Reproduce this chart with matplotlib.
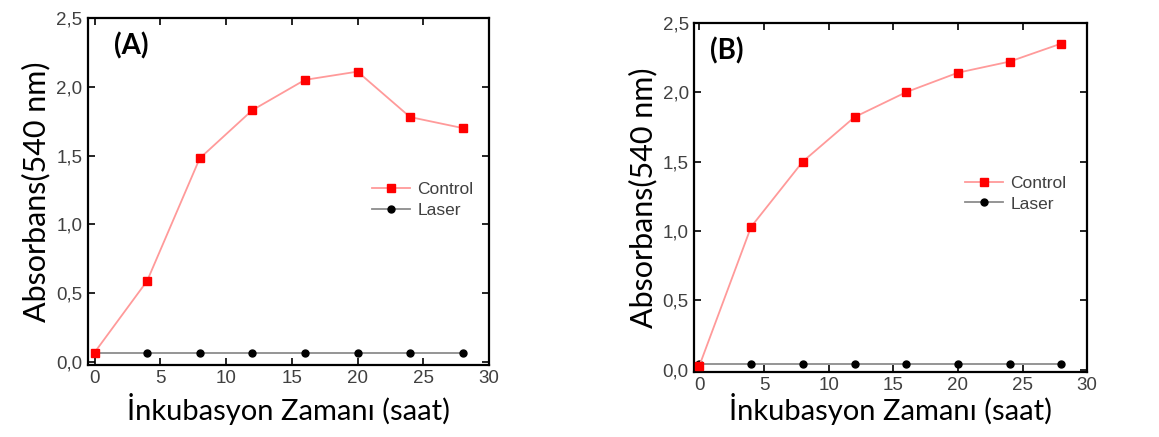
import matplotlib
matplotlib.use("Agg")
import matplotlib.pyplot as plt
from matplotlib.ticker import FuncFormatter

hours = [0, 4, 8, 12, 16, 20, 24, 28]
control_a = [0.07, 0.59, 1.48, 1.83, 2.05, 2.11, 1.78, 1.70]
laser_a = [0.065, 0.065, 0.065, 0.065, 0.065, 0.065, 0.065, 0.065]
control_b = [0.03, 1.03, 1.50, 1.82, 2.00, 2.14, 2.22, 2.35]
laser_b = [0.045, 0.045, 0.045, 0.045, 0.045, 0.045, 0.045, 0.045]

fig = plt.figure(figsize=(11.59, 4.37), dpi=100)

comma = FuncFormatter(lambda v, p: f"{v:.1f}".replace(".", ","))
intfmt = FuncFormatter(lambda v, p: f"{v:.0f}")

def panel(rect, ctrl, las, tag, tag_x, xlim, ylim, lab_pad, leg_xy):
    ax = fig.add_axes(rect)
    ax.plot(hours, ctrl, color="#ff9a9a", lw=1.3, marker="s", ms=5.5,
            mfc="#ff0000", mec="#ff0000", label="Control", zorder=3)
    ax.plot(hours, las, color="#8c8c8c", lw=1.3, marker="o", ms=5,
            mfc="black", mec="black", label="Laser", zorder=2)
    ax.set_xlim(*xlim)
    ax.set_ylim(*ylim)
    ax.set_xticks([0, 5, 10, 15, 20, 25, 30])
    ax.set_yticks([0, 0.5, 1.0, 1.5, 2.0, 2.5])
    ax.xaxis.set_major_formatter(intfmt)
    ax.yaxis.set_major_formatter(comma)
    ax.tick_params(direction="in", top=True, right=True, length=5, width=1.2,
                   labelsize=13.5, labelcolor="#404040", pad=4)
    for lbl in ax.get_xticklabels() + ax.get_yticklabels():
        lbl.set_family("Liberation Sans")
    for s in ax.spines.values():
        s.set_linewidth(1.6)
    ax.set_xlabel("İnkubasyon Zamanı (saat)", fontsize=21, family="Lato",
                  labelpad=lab_pad)
    ax.set_ylabel("Absorbans(540 nm)", fontsize=22, family="Lato", labelpad=4)
    ax.text(tag_x, 0.92, tag, transform=ax.transAxes, fontsize=20,
            fontweight="bold", family="Lato", va="center", ha="left")
    ax.legend(loc="center left", bbox_to_anchor=leg_xy, frameon=False,
              prop={"family": "Liberation Sans", "size": 12.5},
              handlelength=2.2, handletextpad=0.4, labelspacing=0.3,
              labelcolor="#404040")
    return ax

panel([0.0759, 0.165, 0.346, 0.794], control_a, laser_a, "(A)", 0.065,
      (-0.5, 30), (-0.02, 2.5), 4, (0.67, 0.475))
panel([0.599, 0.149, 0.339, 0.799], control_b, laser_b, "(B)", 0.04,
      (-0.4, 30), (-0.015, 2.5), -1, (0.65, 0.51))

fig.savefig("out.png", dpi=100)
